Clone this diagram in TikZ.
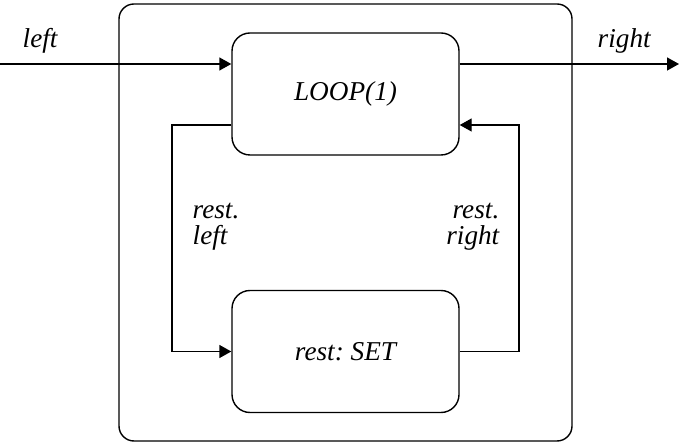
\documentclass[tikz,border=0pt]{standalone}
\usepackage{fontspec}
\setmainfont{Liberation Serif}
\usetikzlibrary{arrows.meta}
\frenchspacing

\begin{document}
\begin{tikzpicture}[scale=1.0, thick,
    box/.style={draw, rounded corners=0.36cm, minimum width=4.54cm, minimum height=2.44cm},
    arr/.style={-{Triangle[length=0.24cm, width=0.26cm]}},
    lbl/.style={inner sep=0pt, font=\fontsize{15.5}{15}\selectfont\itshape}]
  \useasboundingbox (0,0) rectangle (13.58,8.84);

  % outer frame
  \node[draw, rounded corners=0.3cm, minimum width=9.06cm, minimum height=8.74cm] (frame) at (6.91,4.39) {};

  \node[box, lbl] (loop) at (6.91,6.96) {LOOP(1)};
  \node[box, lbl] (set)  at (6.91,1.81) {rest: SET};

  \coordinate (in)  at (0,7.56);
  \coordinate (out) at (13.58,7.56);
  % feedback corners
  \coordinate (fbl) at (3.44,6.34);
  \coordinate (fbr) at (10.38,6.34);

  \draw[arr] (in) -- (in -| loop.west);
  \draw[arr] (loop.east |- out) -- (out);
  \draw[arr] (fbl -| loop.west) -- (fbl) |- (set.west);
  \draw[arr] (set.east) -| (fbr) -- (fbr -| loop.east);

  \node[lbl, anchor=base west] (lleft)  at (0.44,7.88) {left};
  \node[lbl, anchor=base west] (lright) at (11.94,7.88) {right};
  \node[lbl, anchor=north west, align=left]  (rleft)  at (3.84,4.80) {rest.\\left};
  \node[lbl, anchor=north east, align=right] (rright) at (10.00,4.80) {rest.\\right};
\end{tikzpicture}
\end{document}
